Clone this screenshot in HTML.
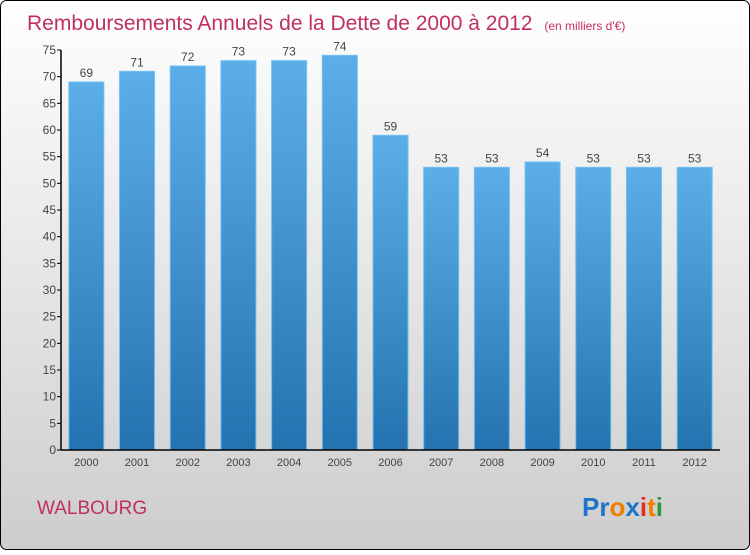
<!DOCTYPE html>
<html><head><meta charset="utf-8"><style>
body{margin:0;width:750px;height:550px;overflow:hidden;font-family:"Liberation Sans",sans-serif}
</style></head><body>
<svg width="750" height="550" xmlns="http://www.w3.org/2000/svg">
<defs>
<linearGradient id="bg" x1="0" y1="0" x2="0" y2="1"><stop offset="0" stop-color="#ffffff"/><stop offset="1" stop-color="#cdcdcd"/></linearGradient>
<linearGradient id="bar" x1="0" y1="0" x2="0" y2="1"><stop offset="0" stop-color="#5caee8"/><stop offset="1" stop-color="#2473b0"/></linearGradient>
</defs>
<rect x="0.5" y="0.5" width="749" height="549" rx="6" fill="url(#bg)" stroke="#000"/>
<text x="27" y="30" font-size="21" fill="#c0305e">Remboursements Annuels de la Dette de 2000 à 2012 <tspan font-size="12" dx="6">(en milliers d'€)</tspan></text>
<g id="plot"></g>
<text x="37" y="514" font-size="19" fill="#c0305e">WALBOURG</text>
<text x="582" y="516" font-size="26" font-weight="bold"><tspan fill="#1d74c8">Pr</tspan><tspan fill="#f07d00">o</tspan><tspan fill="#1d74c8">x</tspan><tspan fill="#e03020">i</tspan><tspan fill="#f07d00">t</tspan><tspan fill="#2a9a3a">i</tspan></text>
</svg>
<script>
const years=["2000","2001","2002","2003","2004","2005","2006","2007","2008","2009","2010","2011","2012"];
const values=[69,71,72,73,73,74,59,53,53,54,53,53,53];
const yTicks=[0,5,10,15,20,25,30,35,40,45,50,55,60,65,70,75];
const NS="http://www.w3.org/2000/svg";
const g=document.getElementById('plot');
const x0=61,x1=720,y0=450,yTop=50,yMax=75;
const bw=(x1-x0)/years.length;
const y=v=>y0-(v/yMax)*(y0-yTop);
const xc=i=>x0+bw*(i+0.5);
function el(t,a){const e=document.createElementNS(NS,t);for(const k in a)e.setAttribute(k,a[k]);g.appendChild(e);return e;}
values.forEach((v,i)=>{
 const r=el('rect',{x:xc(i)-17.5,y:y(v),width:35,height:y0-y(v),fill:'url(#bar)',stroke:'#6fc0f5','stroke-width':1});
 
 
 const t=el('text',{x:xc(i),y:y(v)-5,'text-anchor':'middle','font-size':12,fill:'#444'});
 t.textContent=v;
 
 
 const xl=el('text',{x:xc(i),y:466,'text-anchor':'middle','font-size':11,fill:'#444'});
 xl.textContent=years[i];
 
 
});
yTicks.forEach(v=>{
 const l=el('line',{x1:x0-4,x2:x0,y1:y(v),y2:y(v),stroke:'#000'});
 
 
 const t=el('text',{x:x0-5,y:y(v)+4,'text-anchor':'end','font-size':12,fill:'#444'});
 t.textContent=v;
 
 
});
const ya=el('line',{x1:x0,x2:x0,y1:yTop,y2:y0,stroke:'#000','stroke-width':1.5});


const xa=el('line',{x1:x0,x2:x1,y1:y0,y2:y0,stroke:'#000','stroke-width':1.5});


</script>
</body></html>
